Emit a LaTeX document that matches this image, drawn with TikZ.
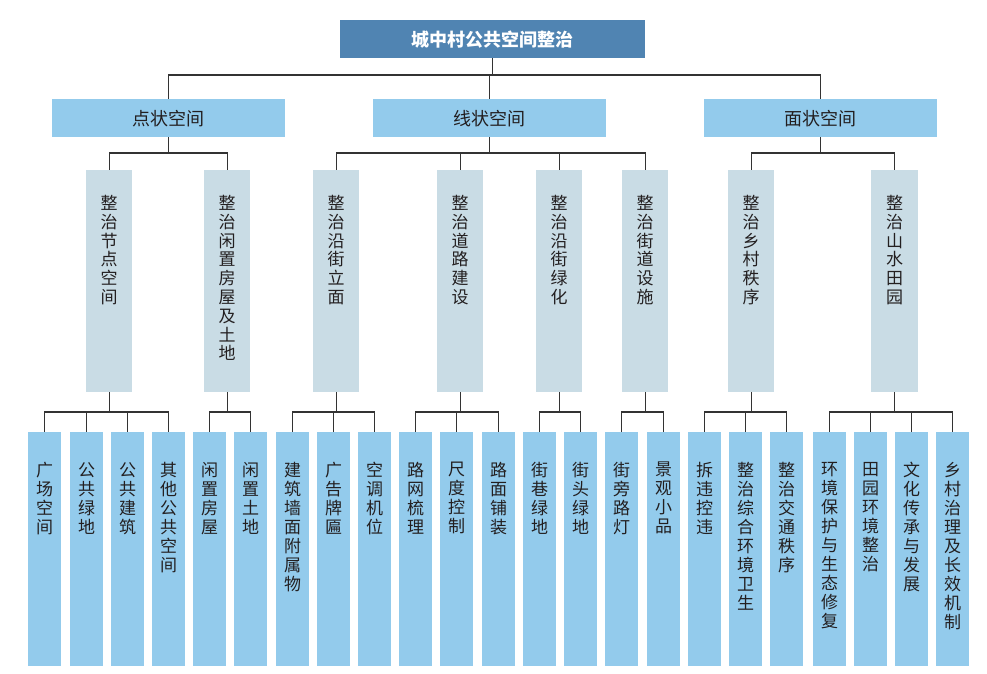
\documentclass[tikz,border=0pt]{standalone}
\usepackage{fontspec}
\newfontfamily\cjk{Noto Sans CJK SC}
\definecolor{rootc}{HTML}{5084B2}
\definecolor{lightc}{HTML}{93CBEC}
\definecolor{midc}{HTML}{C9DCE5}
\definecolor{txtc}{HTML}{231F20}
\definecolor{linec}{HTML}{333333}
\tikzset{
  rootbox/.style={fill=rootc, draw=none, minimum width=305pt, minimum height=38pt, inner sep=0pt, anchor=north west,
    font=\cjk\bfseries\fontsize{18}{20}\selectfont, text=white},
  onebox/.style={fill=lightc, draw=none, minimum width=233pt, minimum height=38pt, inner sep=0pt, anchor=north west,
    font=\cjk\fontsize{18}{20}\selectfont, text=txtc},
  twobox/.style={fill=midc, draw=none, minimum width=46pt, minimum height=222pt, inner sep=0pt, anchor=north west},
  leafbox/.style={fill=lightc, draw=none, minimum width=33pt, minimum height=234pt, inner sep=0pt, anchor=north west},
  vtext/.style={anchor=north, inner sep=0pt, align=center, text=txtc, font=\cjk\fontsize{17}{18.8}\selectfont},
  ltext/.style={anchor=north, inner sep=0pt, align=center, text=txtc, font=\cjk\fontsize{17}{19}\selectfont},
  conn/.style={draw=linec, line width=1.1pt}
}
\begin{document}
\begin{tikzpicture}[x=1pt,y=-1pt]
\useasboundingbox (0,0) rectangle (987,674);
% root
\node[rootbox] (root) at (340,20) {城中村公共空间整治};
% level 1
\node[onebox] (p1) at (52,99) {点状空间};
\node[onebox] (p2) at (373,99) {线状空间};
\node[onebox] (p3) at (704,99) {面状空间};
% level 2
\node[twobox] (a) at (86,170) {};
\node[twobox] (b) at (204,170) {};
\node[twobox] (c) at (313,170) {};
\node[twobox] (d) at (437,170) {};
\node[twobox] (e) at (536,170) {};
\node[twobox] (f) at (622,170) {};
\node[twobox] (g) at (728,170) {};
\node[twobox,minimum width=47pt] (h) at (871,170) {};
\node[vtext] (ta) at ([yshift=-25pt]a.north) {整\\治\\节\\点\\空\\间};
\node[vtext] (tb) at ([yshift=-25pt]b.north) {整\\治\\闲\\置\\房\\屋\\及\\土\\地};
\node[vtext] (tc) at ([yshift=-25pt]c.north) {整\\治\\沿\\街\\立\\面};
\node[vtext] (td) at ([yshift=-25pt]d.north) {整\\治\\道\\路\\建\\设};
\node[vtext] (te) at ([yshift=-25pt]e.north) {整\\治\\沿\\街\\绿\\化};
\node[vtext] (tf) at ([yshift=-25pt]f.north) {整\\治\\街\\道\\设\\施};
\node[vtext] (tg) at ([yshift=-25pt]g.north) {整\\治\\乡\\村\\秩\\序};
\node[vtext] (th) at ([yshift=-25pt]h.north) {整\\治\\山\\水\\田\\园};
% leaves
\node[leafbox] (l1) at (28,432) {};
\node[leafbox] (l2) at (70,432) {};
\node[leafbox] (l3) at (111,432) {};
\node[leafbox] (l4) at (152,432) {};
\node[leafbox] (l5) at (193,432) {};
\node[leafbox] (l6) at (234,432) {};
\node[leafbox] (l7) at (276,432) {};
\node[leafbox] (l8) at (317,432) {};
\node[leafbox] (l9) at (358,432) {};
\node[leafbox] (l10) at (399,432) {};
\node[leafbox] (l11) at (440,432) {};
\node[leafbox] (l12) at (482,432) {};
\node[leafbox] (l13) at (523,432) {};
\node[leafbox] (l14) at (564,432) {};
\node[leafbox] (l15) at (605,432) {};
\node[leafbox] (l16) at (647,432) {};
\node[leafbox] (l17) at (688,432) {};
\node[leafbox] (l18) at (729,432) {};
\node[leafbox] (l19) at (770,432) {};
\node[leafbox] (l20) at (813,432) {};
\node[leafbox] (l21) at (854,432) {};
\node[leafbox] (l22) at (895,432) {};
\node[leafbox] (l23) at (936,432) {};
\node[ltext] at ([yshift=-30pt]l1.north) {广\\场\\空\\间};
\node[ltext] at ([yshift=-30pt]l2.north) {公\\共\\绿\\地};
\node[ltext] at ([yshift=-30pt]l3.north) {公\\共\\建\\筑};
\node[ltext] at ([yshift=-30pt]l4.north) {其\\他\\公\\共\\空\\间};
\node[ltext] at ([yshift=-30pt]l5.north) {闲\\置\\房\\屋};
\node[ltext] at ([yshift=-30pt]l6.north) {闲\\置\\土\\地};
\node[ltext] at ([yshift=-30pt]l7.north) {建\\筑\\墙\\面\\附\\属\\物};
\node[ltext] at ([yshift=-30pt]l8.north) {广\\告\\牌\\匾};
\node[ltext] at ([yshift=-30pt]l9.north) {空\\调\\机\\位};
\node[ltext] at ([yshift=-30pt]l10.north) {路\\网\\梳\\理};
\node[ltext] at ([yshift=-30pt]l11.north) {尺\\度\\控\\制};
\node[ltext] at ([yshift=-30pt]l12.north) {路\\面\\铺\\装};
\node[ltext] at ([yshift=-30pt]l13.north) {街\\巷\\绿\\地};
\node[ltext] at ([yshift=-30pt]l14.north) {街\\头\\绿\\地};
\node[ltext] at ([yshift=-30pt]l15.north) {街\\旁\\路\\灯};
\node[ltext] at ([yshift=-30pt]l16.north) {景\\观\\小\\品};
\node[ltext] at ([yshift=-30pt]l17.north) {拆\\违\\控\\违};
\node[ltext] at ([yshift=-30pt]l18.north) {整\\治\\综\\合\\环\\境\\卫\\生};
\node[ltext] at ([yshift=-30pt]l19.north) {整\\治\\交\\通\\秩\\序};
\node[ltext] at ([yshift=-30pt]l20.north) {环\\境\\保\\护\\与\\生\\态\\修\\复};
\node[ltext] at ([yshift=-30pt]l21.north) {田\\园\\环\\境\\整\\治};
\node[ltext] at ([yshift=-30pt]l22.north) {文\\化\\传\\承\\与\\发\\展};
\node[ltext] at ([yshift=-30pt]l23.north) {乡\\村\\治\\理\\及\\长\\效\\机\\制};
% bracket levels
\coordinate (m0) at (0,75);
\coordinate (m1) at (0,153);
\coordinate (m2) at (0,412);
% connectors
\foreach \c in {p1,p2,p3} \draw[conn] (root.south) |- (\c.north |- m0) -- (\c.north);
\foreach \c in {a,b} \draw[conn] (p1.south) |- (\c.north |- m1) -- (\c.north);
\foreach \c in {c,d,e,f} \draw[conn] (p2.south) |- (\c.north |- m1) -- (\c.north);
\foreach \c in {g,h} \draw[conn] (p3.south) |- (\c.north |- m1) -- (\c.north);
\foreach \c in {l1,l2,l3,l4} \draw[conn] (a.south) |- (\c.north |- m2) -- (\c.north);
\foreach \c in {l5,l6} \draw[conn] (b.south) |- (\c.north |- m2) -- (\c.north);
\foreach \c in {l7,l8,l9} \draw[conn] (c.south) |- (\c.north |- m2) -- (\c.north);
\foreach \c in {l10,l11,l12} \draw[conn] (d.south) |- (\c.north |- m2) -- (\c.north);
\foreach \c in {l13,l14} \draw[conn] (e.south) |- (\c.north |- m2) -- (\c.north);
\foreach \c in {l15,l16} \draw[conn] (f.south) |- (\c.north |- m2) -- (\c.north);
\foreach \c in {l17,l18,l19} \draw[conn] (g.south) |- (\c.north |- m2) -- (\c.north);
\foreach \c in {l20,l21,l22,l23} \draw[conn] (h.south) |- (\c.north |- m2) -- (\c.north);
\end{tikzpicture}
\end{document}
